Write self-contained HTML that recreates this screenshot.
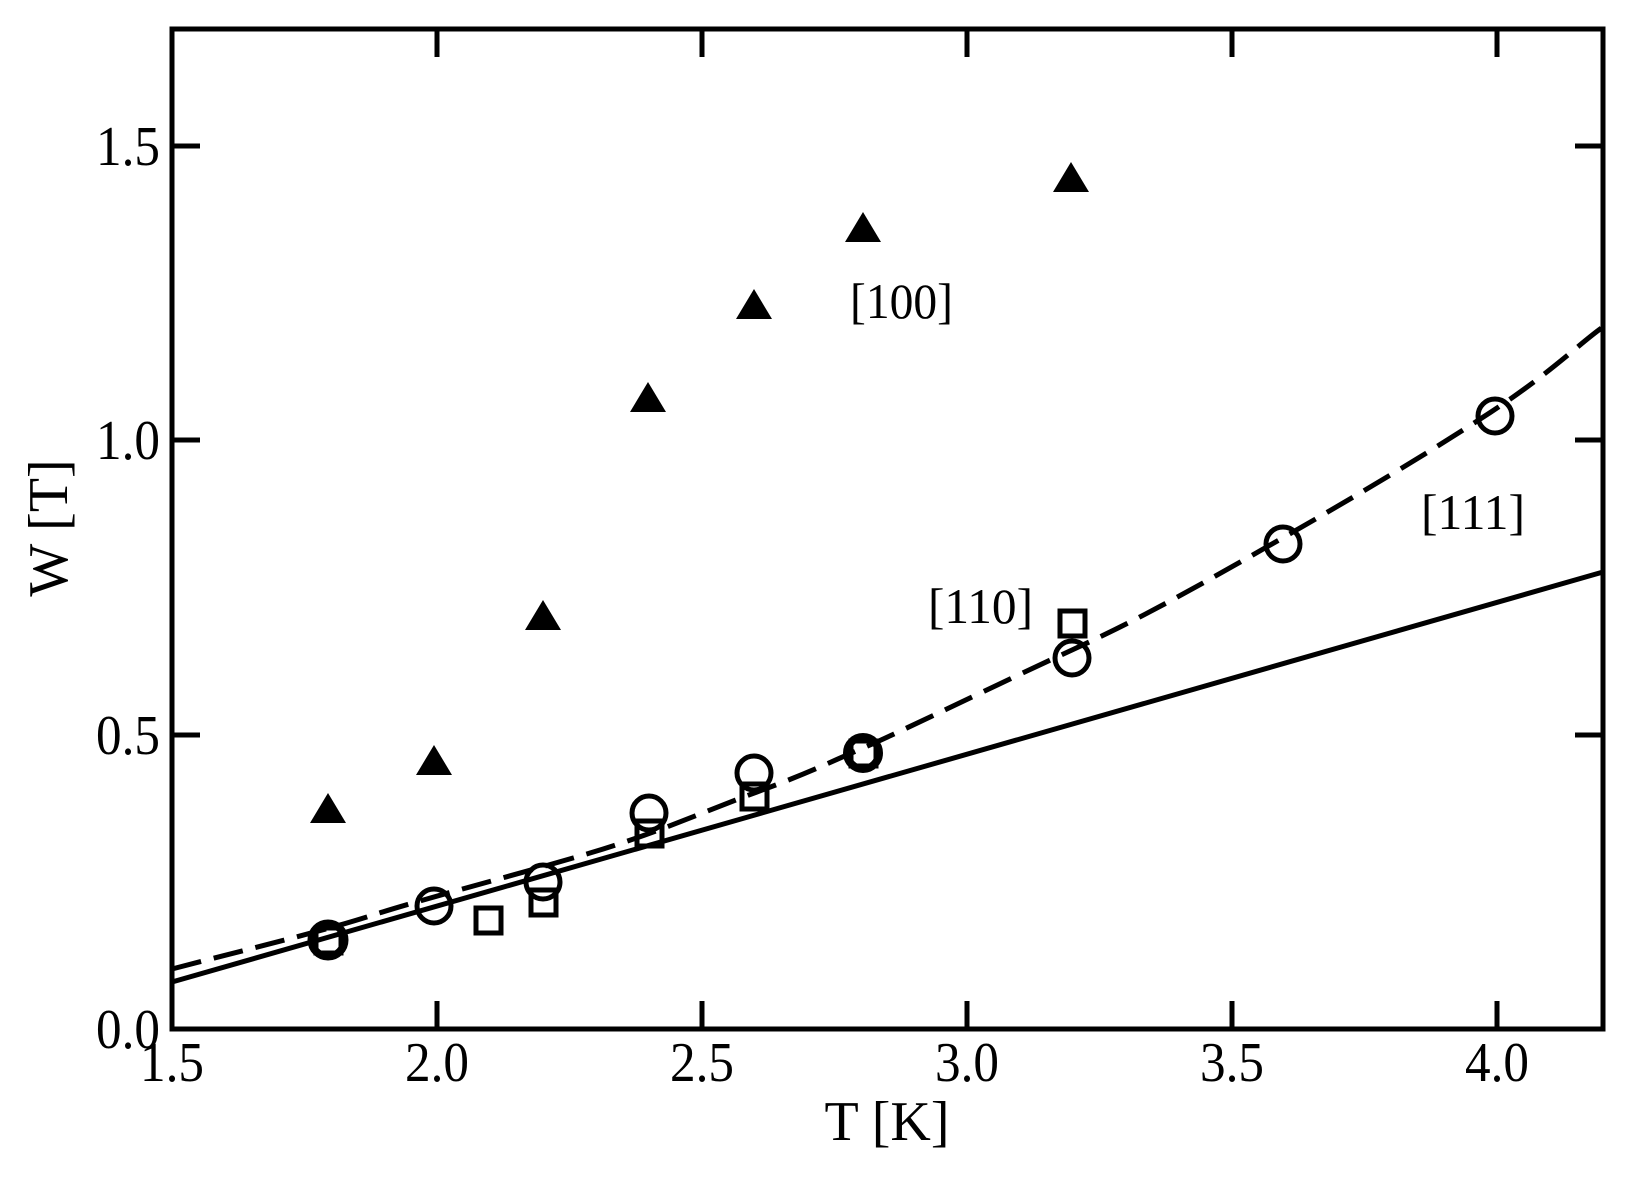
<!DOCTYPE html>
<html><head><meta charset="utf-8"><style>html,body{margin:0;padding:0;background:#fff}svg{display:block}</style></head>
<body>
<svg width="1635" height="1181" viewBox="0 0 1635 1181" xmlns="http://www.w3.org/2000/svg" font-family="Liberation Serif, serif">
<rect width="1635" height="1181" fill="#fff"/>
<!-- curves -->
<polyline points="172,982 1603,572" fill="none" stroke="#000" stroke-width="5"/>
<path d="M172,969 C260,946 320,932 373,915 S520,874 590,853 S700,813 757,792 S830,762 863,748 S1000,683 1072,650 S1200,585 1279,540 S1430,452 1491,412 S1580,343 1603,327" fill="none" stroke="#000" stroke-width="5" stroke-dasharray="30,13"/>
<!-- triangles -->
<g fill="#000">
<polygon points="328,793 310,823 346,823"/>
<polygon points="434,745 416,775 452,775"/>
<polygon points="543,600 525,630 561,630"/>
<polygon points="648,382 630,412 666,412"/>
<polygon points="754,289 736,319 772,319"/>
<polygon points="863,212 845,242 881,242"/>
<polygon points="1071,162 1053,192 1089,192"/>
</g>
<!-- circles -->
<g fill="none" stroke="#000" stroke-width="5">
<circle cx="328" cy="940" r="16.5" stroke-width="8"/>
<circle cx="434" cy="906" r="17"/>
<circle cx="543" cy="882" r="17"/>
<circle cx="649" cy="813" r="17"/>
<circle cx="754" cy="773" r="17"/>
<circle cx="863" cy="753" r="16" stroke-width="8"/>
<circle cx="1072" cy="658" r="17"/>
<circle cx="1283" cy="544" r="17"/>
<circle cx="1495" cy="416" r="17"/>
</g>
<!-- squares -->
<g fill="none" stroke="#000" stroke-width="5">
<rect x="316" y="928" width="25" height="25"/>
<rect x="476" y="908" width="25" height="25"/>
<rect x="531" y="890" width="25" height="25"/>
<rect x="637" y="821" width="25" height="25"/>
<rect x="742" y="784" width="25" height="25"/>
<rect x="851" y="741" width="25" height="25"/>
<rect x="1060" y="611" width="25" height="25"/>
</g>
<!-- frame -->
<rect x="172" y="29" width="1431" height="1000" fill="none" stroke="#000" stroke-width="5"/>
<g stroke="#000" stroke-width="5">
<line x1="437" y1="1029" x2="437" y2="1001"/><line x1="702" y1="1029" x2="702" y2="1001"/><line x1="967" y1="1029" x2="967" y2="1001"/><line x1="1232" y1="1029" x2="1232" y2="1001"/><line x1="1497" y1="1029" x2="1497" y2="1001"/>
<line x1="437" y1="29" x2="437" y2="57"/><line x1="702" y1="29" x2="702" y2="57"/><line x1="967" y1="29" x2="967" y2="57"/><line x1="1232" y1="29" x2="1232" y2="57"/><line x1="1497" y1="29" x2="1497" y2="57"/>
<line x1="172" y1="735" x2="200" y2="735"/><line x1="172" y1="440" x2="200" y2="440"/><line x1="172" y1="146" x2="200" y2="146"/>
<line x1="1603" y1="735" x2="1575" y2="735"/><line x1="1603" y1="440" x2="1575" y2="440"/><line x1="1603" y1="146" x2="1575" y2="146"/>
</g>
<!-- tick labels -->
<g font-size="56" fill="#000" text-anchor="middle">
<text x="172" y="1081" textLength="64" lengthAdjust="spacingAndGlyphs">1.5</text>
<text x="437" y="1081" textLength="64" lengthAdjust="spacingAndGlyphs">2.0</text>
<text x="702" y="1081" textLength="64" lengthAdjust="spacingAndGlyphs">2.5</text>
<text x="967" y="1081" textLength="64" lengthAdjust="spacingAndGlyphs">3.0</text>
<text x="1232" y="1081" textLength="64" lengthAdjust="spacingAndGlyphs">3.5</text>
<text x="1497" y="1081" textLength="64" lengthAdjust="spacingAndGlyphs">4.0</text>
</g>
<g font-size="56" fill="#000" text-anchor="end">
<text x="160" y="1048" textLength="64" lengthAdjust="spacingAndGlyphs">0.0</text>
<text x="160" y="754" textLength="64" lengthAdjust="spacingAndGlyphs">0.5</text>
<text x="160" y="459" textLength="64" lengthAdjust="spacingAndGlyphs">1.0</text>
<text x="160" y="165" textLength="64" lengthAdjust="spacingAndGlyphs">1.5</text>
</g>
<text x="887" y="1140" font-size="56" text-anchor="middle" fill="#000">T [K]</text>
<text transform="translate(67,528) rotate(-90)" font-size="56" text-anchor="middle" fill="#000">W [T]</text>
<!-- annotations -->
<g font-size="50" fill="#000">
<text x="850" y="318" textLength="103" lengthAdjust="spacingAndGlyphs">[100]</text>
<text x="928" y="623" textLength="105" lengthAdjust="spacingAndGlyphs">[110]</text>
<text x="1421" y="529" textLength="104" lengthAdjust="spacingAndGlyphs">[111]</text>
</g>
</svg>
</body></html>
